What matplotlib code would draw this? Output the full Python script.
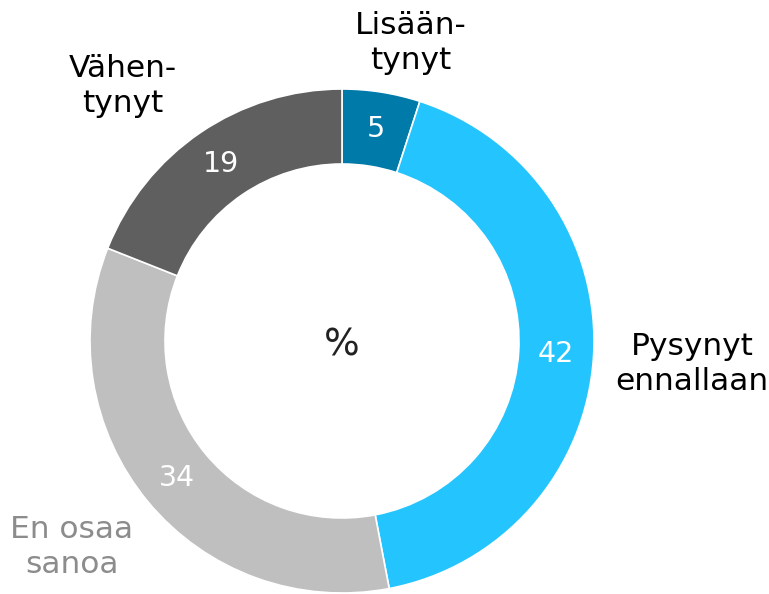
import numpy as np
import matplotlib
matplotlib.use('Agg')
import matplotlib.pyplot as plt

values = [5, 42, 34, 19]
categories = ['Lisään-\ntynyt', 'Pysynyt\nennallaan', 'En osaa\nsanoa', 'Vähen-\ntynyt']
colors = ['#007aa8', '#24c5ff', '#bfbfbf', '#5f5f5f']
label_colors = ['#000000', '#000000', '#8c8c8c', '#000000']
# label centres in pixel coords (y from top)
label_pos = [(411, 43), (692, 364), (72, 547), (123, 86)]

W, H = 769, 594
cx, cy, R, ring = 342, 341, 252, 75

plt.rcParams['font.family'] = 'DejaVu Sans'
fig = plt.figure(figsize=(W / 100, H / 100), dpi=100)
ax = fig.add_axes([0, 0, 1, 1])
ax.set_xlim(0, W)
ax.set_ylim(0, H)
ax.set_aspect('equal')
ax.axis('off')

wedges, _ = ax.pie(values, colors=colors, startangle=90, counterclock=False,
                   center=(cx, H - cy), radius=R,
                   wedgeprops=dict(width=ring, edgecolor='white', linewidth=1.2))
ax.set_xlim(0, W)
ax.set_ylim(0, H)

for w, v in zip(wedges, values):
    ang = np.deg2rad((w.theta1 + w.theta2) / 2)
    r = R - ring / 2
    ax.text(cx + r * np.cos(ang), H - cy + r * np.sin(ang), str(v),
            ha='center', va='center', fontsize=20.5, color='white')

for lab, (x, y), c in zip(categories, label_pos, label_colors):
    ax.text(x, H - y, lab, ha='center', va='center', fontsize=22.5, color=c,
            linespacing=1.27)

ax.text(cx, H - 346, '%', ha='center', va='center', fontsize=27, color='#222222')

fig.savefig('out.png', dpi=100)
